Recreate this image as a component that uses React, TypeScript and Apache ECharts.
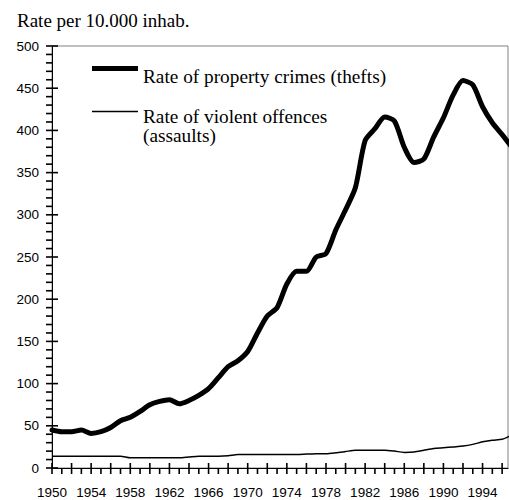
import React, { useEffect, useRef } from "react";
import * as echarts from "echarts";

const years = [
  1950, 1951, 1952, 1953, 1954, 1955, 1956, 1957, 1958, 1959,
  1960, 1961, 1962, 1963, 1964, 1965, 1966, 1967, 1968, 1969,
  1970, 1971, 1972, 1973, 1974, 1975, 1976, 1977, 1978, 1979,
  1980, 1981, 1982, 1983, 1984, 1985, 1986, 1987, 1988, 1989,
  1990, 1991, 1992, 1993, 1994, 1995, 1996, 1997,
];

const propertyCrimes = [
  45, 43, 43, 45, 41, 43, 48, 56, 60, 67,
  75, 79, 81, 76, 80, 86, 94, 107, 120, 127,
  138, 160, 180, 190, 218, 233, 233, 250, 254, 282,
  306, 332, 388, 402, 416, 411, 380, 362, 366, 392,
  415, 442, 459, 454, 428, 409, 395, 380,
];

const violentOffences = [
  14, 14, 14, 14, 14, 14, 14, 14, 12, 12,
  12, 12, 12, 12, 13, 14, 14, 14, 14.5, 16,
  16, 16, 16, 16, 16, 16, 16.5, 17, 17, 18,
  19.5, 21, 21, 21, 21, 20, 18.5, 19, 21, 23,
  24, 25, 26, 28, 31, 33, 34, 39,
];

const titleText = "Rate per 10.000 inhab.";
const legendProperty = "Rate of property crimes (thefts)";
const legendViolentLine1 = "Rate of violent offences";
const legendViolentLine2 = "(assaults)";

const xLabelYears = years.filter((y) => (y - 1950) % 4 === 0 && y <= 1994);
const xTickYears = years.filter((y) => y <= 1996);
const yTickValues = [
  0, 10, 20, 30, 40, 50, 60, 70, 80, 90,
  100, 110, 120, 130, 140, 150, 160, 170, 180, 190,
  200, 210, 220, 230, 240, 250, 260, 270, 280, 290,
  300, 310, 320, 330, 340, 350, 360, 370, 380, 390,
  400, 410, 420, 430, 440, 450, 460, 470, 480, 490, 500,
];

export default function App() {
  const ref = useRef<HTMLDivElement>(null);

  useEffect(() => {
    if (!ref.current) return;
    const chart = echarts.init(ref.current, null, { renderer: "svg" });
    const serif = '"Liberation Serif", "Times New Roman", serif';
    const sans = '"Liberation Sans", Arial, sans-serif';
    const xMin = 1950;
    const xMax = 1996.6;

    const xTickRender = (_params: any, api: any) => {
      const v = api.value(0);
      const p = api.coord([v, 0]);
      const major = (v - 1950) % 2 === 0;
      return {
        type: "line",
        shape: { x1: p[0], y1: p[1] - (major ? 5 : 0), x2: p[0], y2: p[1] + 6 },
        style: { stroke: "#000", lineWidth: 1.6 },
      };
    };

    const yTickRender = (_params: any, api: any) => {
      const v = api.value(1);
      const p = api.coord([xMin, v]);
      const major = v % 50 === 0;
      return {
        type: "line",
        shape: { x1: p[0] - 6, y1: p[1], x2: p[0] + (major ? 6 : 0), y2: p[1] },
        style: { stroke: "#000", lineWidth: 1.6 },
      };
    };

    chart.setOption({
      animation: false,
      backgroundColor: "#ffffff",
      grid: {
        left: 52,
        right: 1,
        top: 46,
        bottom: 32,
        show: true,
        borderColor: "#808080",
        borderWidth: 1,
        backgroundColor: "transparent",
      },
      xAxis: {
        type: "value",
        min: xMin,
        max: xMax,
        axisLine: { show: true, onZero: false, lineStyle: { color: "#000", width: 1 } },
        axisTick: { show: false },
        axisLabel: {
          show: true,
          customValues: xLabelYears,
          color: "#000",
          fontFamily: sans,
          fontSize: 13.5,
          margin: 17,
          formatter: (v: number) => String(Math.round(v)),
        },
        splitLine: { show: false },
      },
      yAxis: {
        type: "value",
        min: 0,
        max: 500,
        interval: 50,
        axisLine: { show: true, onZero: false, lineStyle: { color: "#000", width: 1 } },
        axisTick: { show: false },
        axisLabel: {
          color: "#000",
          fontFamily: sans,
          fontSize: 13.5,
          margin: 13,
        },
        splitLine: { show: false },
      },
      series: [
        {
          name: legendProperty,
          type: "line",
          data: years.map((y, i) => [y, propertyCrimes[i]]),
          showSymbol: false,
          smooth: 0.25,
          clip: true,
          lineStyle: { color: "#000", width: 5, cap: "round", join: "round" },
          z: 3,
        },
        {
          name: legendViolentLine1,
          type: "line",
          data: years.map((y, i) => [y, violentOffences[i]]),
          showSymbol: false,
          smooth: 0.25,
          clip: true,
          lineStyle: { color: "#000", width: 1.5 },
          z: 3,
        },
        {
          name: "xTicks",
          type: "custom",
          coordinateSystem: "cartesian2d",
          clip: false,
          silent: true,
          data: xTickYears.map((y) => [y, 0]),
          renderItem: xTickRender,
          z: 5,
        },
        {
          name: "yTicks",
          type: "custom",
          coordinateSystem: "cartesian2d",
          clip: false,
          silent: true,
          data: yTickValues.map((v) => [xMin, v]),
          renderItem: yTickRender,
          z: 5,
        },
      ],
      graphic: [
        {
          type: "text",
          x: 17,
          y: 20,
          style: { text: titleText, font: `19px ${serif}`, fill: "#000", verticalAlign: "middle" },
        },
        {
          type: "line",
          shape: { x1: 92, y1: 68.5, x2: 138, y2: 68.5 },
          style: { stroke: "#000", lineWidth: 5 },
        },
        {
          type: "text",
          x: 143,
          y: 76,
          style: { text: legendProperty, font: `19.3px ${serif}`, fill: "#000", verticalAlign: "middle" },
        },
        {
          type: "line",
          shape: { x1: 92, y1: 111.5, x2: 138, y2: 111.5 },
          style: { stroke: "#000", lineWidth: 1.5 },
        },
        {
          type: "text",
          x: 143,
          y: 116,
          style: { text: legendViolentLine1, font: `19.3px ${serif}`, fill: "#000", verticalAlign: "middle" },
        },
        {
          type: "text",
          x: 143,
          y: 135,
          style: { text: legendViolentLine2, font: `19.3px ${serif}`, fill: "#000", verticalAlign: "middle" },
        },
      ],
    });

    return () => chart.dispose();
  }, []);

  return (
    <div
      ref={ref}
      style={{ position: "fixed", left: 0, top: 0, width: 509, height: 500, background: "#fff" }}
    />
  );
}
